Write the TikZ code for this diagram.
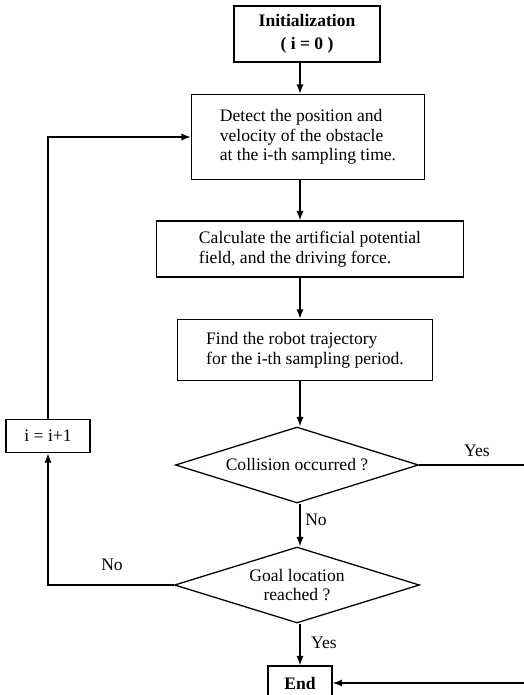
\documentclass[tikz,border=0pt]{standalone}
\usepackage{fontspec}
\setmainfont{Liberation Serif}
\usetikzlibrary{arrows.meta, positioning, shapes.geometric, calc}

\begin{document}
\begin{tikzpicture}[
  x=0.03cm, y=-0.03cm,
  every node/.style={font=\fontsize{15}{16.8}\selectfont},
  box/.style={draw, line width=1.1pt, rectangle, align=left, inner ysep=0pt},
  dec/.style={draw, line width=1.1pt, diamond, aspect=3.2, inner sep=0pt, align=center},
  lbl/.style={inner sep=1pt},
  arr/.style={line width=1.1pt, -{Latex[length=8pt,width=6pt]}},
]
  \useasboundingbox (0,0) rectangle (523,695);
  \coordinate (col) at (300,0);   % main vertical run
  \coordinate (rt) at (540,0);    % return line, runs off the page

  % Process boxes
  \node[box, align=center, minimum width=4.38cm, minimum height=1.68cm,
        font=\fontsize{15}{20}\selectfont\bfseries] (init) at (307,34)
       {Initialization\\( i = 0 )};
  \node[box, minimum width=6.99cm, minimum height=2.55cm] (detect) at (308,137)
       {Detect the position and\\velocity of the obstacle\\at the i-th sampling time.};
  \node[box, minimum width=9.21cm, minimum height=1.68cm] (calc) at (310,249)
       {Calculate the artificial potential\\field, and the driving force.};
  \node[box, minimum width=7.65cm, minimum height=1.83cm] (find) at (305,350)
       {Find the robot trajectory\\for the i-th sampling period.};

  % Decisions
  \node[dec, minimum width=7.29cm, minimum height=2.28cm] (coll) at (297,465)
       {Collision occurred ?};
  \node[dec, minimum width=7.35cm, minimum height=2.28cm] (goal) at (297,585)
       {Goal location\\reached ?};

  % Counter and end
  \node[box, align=center, minimum width=2.52cm, minimum height=0.99cm] (inc) at (48,436)
       {i = i+1};
  \node[box, align=center, minimum width=1.92cm, minimum height=1.02cm,
        font=\fontsize{15}{16.8}\selectfont\bfseries] (fin) at (300,683) {End};

  % Main flow
  \draw[arr] (init.south -| col) -- (detect.north -| col);
  \draw[arr] (detect.south -| col) -- (calc.north -| col);
  \draw[arr] (calc.south -| col) -- (find.north -| col);
  \draw[arr] (find.south -| col) -- (coll.north -| col);
  \draw[arr] (coll.south -| col) -- (goal.north -| col);
  \draw[arr] (goal.south -| col) -- (fin.north -| col);

  % Loop back and exit
  \draw[arr] (goal.west) -| (inc.south);
  \draw[arr] (inc.north) |- (detect.west);
  \draw[arr] (coll.east) -- (coll.east -| rt) |- (fin.east);

  % Branch labels
  \node[lbl] (yes1) at (477,451) {Yes};
  \node[lbl] (no1) at (316,520) {No};
  \node[lbl] (no2) at (112,565) {No};
  \node[lbl] (yes2) at (324,643) {Yes};
\end{tikzpicture}
\end{document}
